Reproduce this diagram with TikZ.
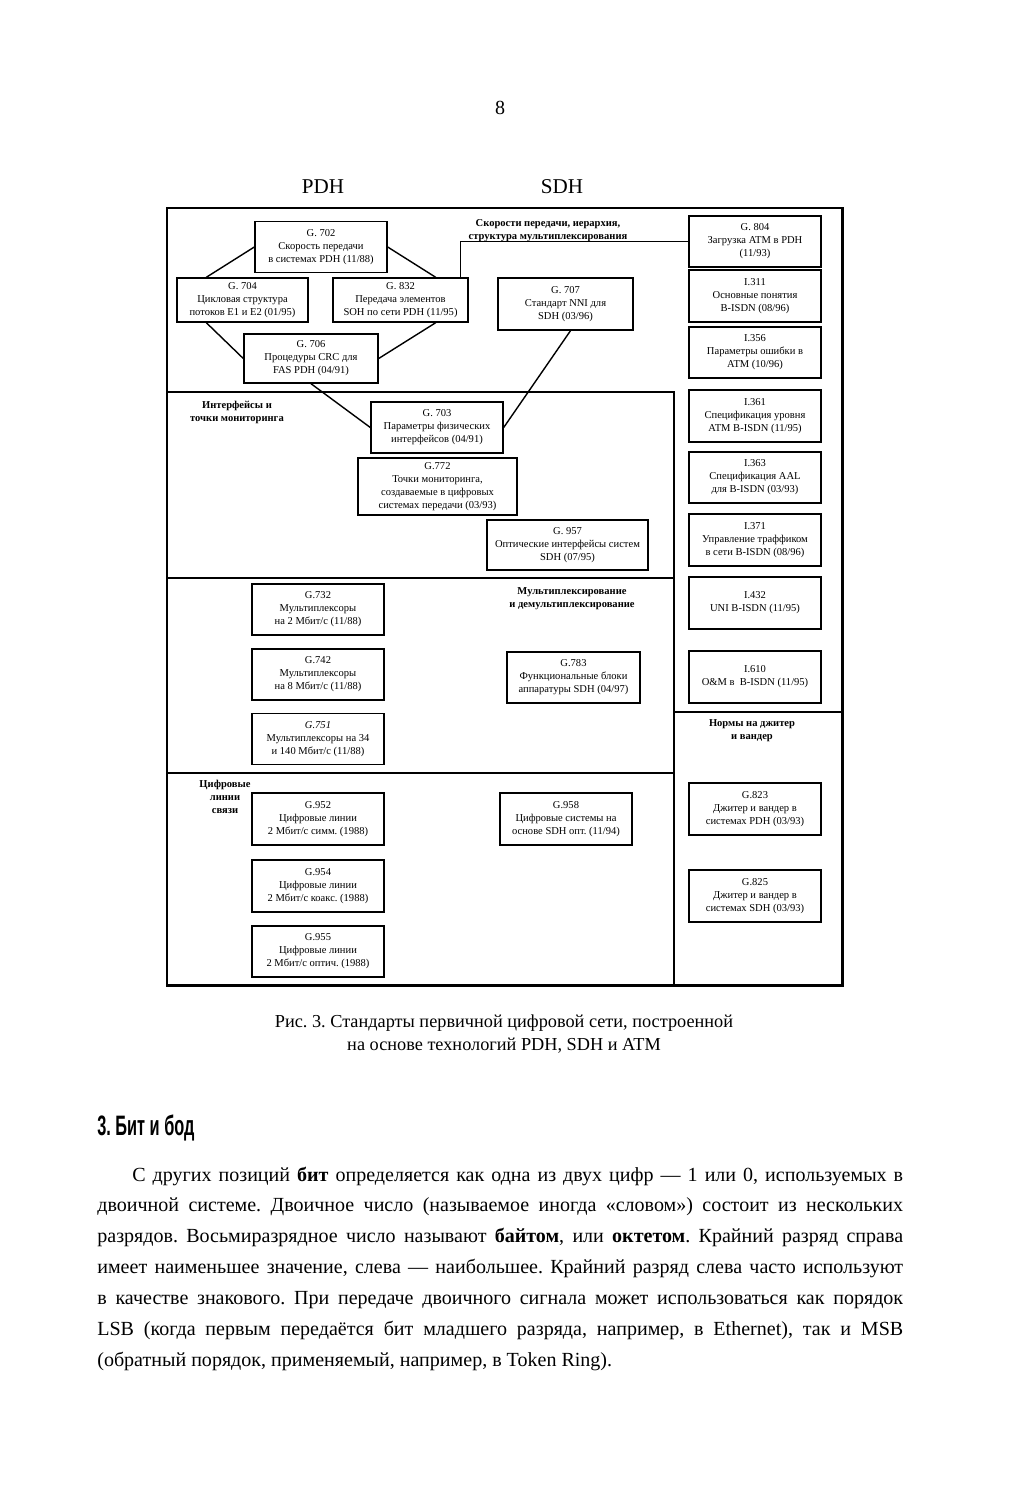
\documentclass[tikz,border=0pt]{standalone}
\usepackage{fontspec}
\setmainfont{Liberation Serif}
\setsansfont{Liberation Sans}
\usetikzlibrary{calc,positioning}
\frenchspacing

\newcommand{\boxfont}{\fontsize{6}{7.4}\selectfont}
\newcommand{\bodyfont}{\fontsize{11.4}{17.6}\selectfont}
\newcommand{\capfont}{\rmfamily\fontsize{10.4}{13}\selectfont}

\begin{document}
\begin{tikzpicture}[x=0.02cm,y=-0.02cm,
  std/.style={draw,line width=0.8pt,align=center,inner sep=1pt,font=\boxfont,
    minimum width=2.64cm,minimum height=1.02cm},
  hdr/.style={align=center,font=\boxfont\bfseries},
  sect/.style={line width=0.8pt}]
  \useasboundingbox (0,0) rectangle (1025,1500);

  % Page number and column titles
  \node (pnum) at (500,108) {\bodyfont 8};
  \node (pdh) at (323,187) {\fontsize{12}{14}\selectfont PDH};
  \node (sdh) at (562,187) {\fontsize{12}{14}\selectfont SDH};

  % Outer frame and section lines
  \draw[line width=1.7pt] (167,208) rectangle (842,985);
  \draw[sect] (167,392) -- (674,392) -- (674,985);
  \draw[sect] (167,578) -- (674,578);
  \draw[sect] (167,773) -- (674,773);
  \draw[sect] (674,712) -- (842,712);

  % Section titles
  \node[hdr] (tspeed) at (548,231) {Скорости передачи, иерархия,\\структура мультиплексирования};
  \node[hdr] (tintf) at (237,412) {Интерфейсы и\\точки мониторинга};
  \node[hdr] (tmux) at (572,599) {Мультиплексирование\\и демультиплексирование};
  \node[hdr] (tjit) at (752,731) {Нормы на джитер\\и вандер};
  \node[hdr] (tline) at (225,797) {Цифровые\\линии\\связи};

  % Rates, hierarchy, multiplexing structure
  \node[std] (g702) at (321,247) {G. 702\\Скорость передачи\\в системах PDH (11/88)};
  \node[std,minimum width=2.62cm,minimum height=0.88cm] (g704) at (242.5,300) {G. 704\\Цикловая структура\\потоков E1 и E2 (01/95)};
  \node[std,minimum width=2.7cm,minimum height=0.88cm] (g832) at (400.5,300) {G. 832\\Передача элементов\\SOH по сети PDH (11/95)};
  \node[std,minimum width=2.7cm,minimum height=1.04cm] (g707) at (565.5,304) {G. 707\\Стандарт NNI для\\SDH (03/96)};
  \node[std,minimum width=2.68cm,minimum height=0.98cm] (g706) at (311,358.5) {G. 706\\Процедуры CRC для\\FAS PDH (04/91)};

  % Interfaces and monitoring points
  \node[std] (g703) at (437,427.5) {G. 703\\Параметры физических\\интерфейсов (04/91)};
  \node[std,minimum width=3.18cm,minimum height=1.14cm] (g772) at (437.5,486.5) {G.772\\Точки мониторинга,\\создаваемые в цифровых\\системах передачи (03/93)};
  \node[std,minimum width=3.22cm,minimum height=1.0cm] (g957) at (567.5,545) {G. 957\\Оптические интерфейсы систем\\SDH (07/95)};

  % Multiplexing and demultiplexing
  \node[std] (g732) at (318,609.5) {G.732\\Мультиплексоры\\на 2 Мбит/с (11/88)};
  \node[std] (g742) at (318,674.5) {G.742\\Мультиплексоры\\на 8 Мбит/с (11/88)};
  \node[std] (g751) at (318,739) {{\itshape G.751}\\Мультиплексоры на 34\\и 140 Мбит/с (11/88)};
  \node[std,minimum width=2.66cm] (g783) at (573.5,677.5) {G.783\\Функциональные блоки\\аппаратуры SDH (04/97)};

  % Digital lines
  \node[std,minimum height=1.04cm] (g952) at (318,819) {G.952\\Цифровые линии\\2 Мбит/с симм. (1988)};
  \node[std,minimum height=1.04cm] (g954) at (318,886) {G.954\\Цифровые линии\\2 Мбит/с коакс. (1988)};
  \node[std] (g955) at (318,951.5) {G.955\\Цифровые линии\\2 Мбит/с оптич. (1988)};
  \node[std,minimum height=1.04cm] (g958) at (566,819) {G.958\\Цифровые системы на\\основе SDH опт. (11/94)};

  % Right column: ATM and jitter standards
  \begin{scope}[every node/.append style={minimum width=2.68cm}]
    \node[std] (g804) at (755,241.5) {G. 804\\Загрузка ATM в PDH\\(11/93)};
    \node[std,minimum height=1.04cm] (i311) at (755,296) {I.311\\Основные понятия\\B-ISDN (08/96)};
    \node[std] (i356) at (755,352.5) {I.356\\Параметры ошибки в\\ATM (10/96)};
    \node[std,minimum height=1.04cm] (i361) at (755,416) {I.361\\Спецификация уровня\\ATM B-ISDN (11/95)};
    \node[std] (i363) at (755,477.5) {I.363\\Спецификация AAL\\для B-ISDN (03/93)};
    \node[std,minimum height=1.04cm] (i371) at (755,540) {I.371\\Управление траффиком\\в сети B-ISDN (08/96)};
    \node[std,minimum height=1.04cm] (i432) at (755,603) {I.432\\UNI B-ISDN (11/95)};
    \node[std,minimum height=1.04cm] (i610) at (755,677) {I.610\\O\&M в\ \ B-ISDN (11/95)};
    \node[std,minimum height=1.04cm] (g823) at (755,809) {G.823\\Джитер и вандер в\\системах PDH (03/93)};
    \node[std,minimum height=1.04cm] (g825) at (755,896) {G.825\\Джитер и вандер в\\системах SDH (03/93)};
  \end{scope}

  % Connectors between standards
  \begin{scope}[line width=0.8pt]
    \draw (g702.west) -- ($(g704.north west)+(30,0)$);
    \draw (g702.east) -- ($(g832.north east)+(-33,0)$);
    \draw ($(g704.south west)+(30,0)$) -- (g706.west);
    \draw ($(g832.south east)+(-33,0)$) -- (g706.east);
    \draw (g706.south) -- (g703.west);
    \draw ($(g707.south)+(5,0)$) -- (g703.east);
    \draw ($(g707.south)+(8,0)$) -- ($(g707.south)+(8,0)$ |- g957.north);
    \draw ($(g832.north east)+(-8,0)$) |- (g804.west);
  \end{scope}

  % Caption
  \node[align=center,font=\capfont] (cap) at (504,1034) {Рис. 3. Стандарты первичной цифровой сети, построенной\\на основе технологий PDH, SDH и ATM};

  % Section heading and text
  \node[anchor=base west,inner sep=0] (head) at (97,1135)
    {\scalebox{0.58}[1]{\fontsize{16}{18}\sffamily\bfseries 3. Бит и бод}};
  \node[anchor=base west,inner sep=0,text width=16.12cm,align=justify,font=\bodyfont] (para) at (97,1181)
    {\hspace*{0.7cm}С других позиций \textbf{бит} определяется как одна из двух цифр — 1 или 0, используемых в\linebreak
     двоичной системе. Двоичное число (называемое иногда «словом») состоит из нескольких\linebreak
     разрядов. Восьмиразрядное число называют \textbf{байтом}, или \textbf{октетом}. Крайний разряд справа\linebreak
     имеет наименьшее значение, слева — наибольшее. Крайний разряд слева часто используют\linebreak
     в качестве знакового. При передаче двоичного сигнала может использоваться как порядок\linebreak
     LSB (когда первым передаётся бит младшего разряда, например, в Ethernet), так и MSB\linebreak
     (обратный порядок, применяемый, например, в Token Ring).};
\end{tikzpicture}
\end{document}
